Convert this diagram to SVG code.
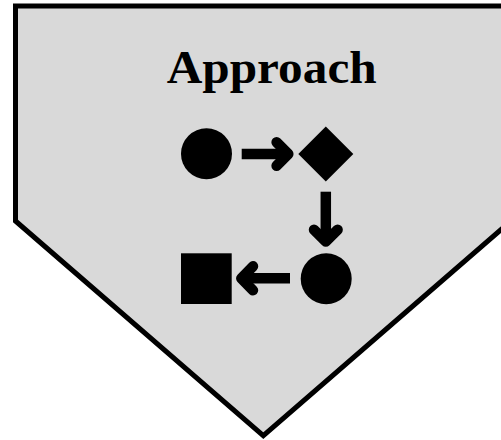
<svg xmlns="http://www.w3.org/2000/svg" width="501" height="440" viewBox="0 0 501 440">
<style>
.shape{fill:#000;stroke:none}
.arrow{fill:none;stroke:#000;stroke-width:10.5}
.head{stroke-linecap:round;stroke-linejoin:round}
.title{font-family:"Liberation Serif","Times New Roman",serif;font-weight:bold;font-size:46px;fill:#000}
</style>
<g id="background">
<path d="M15.5,6 L530,6 L511,221 L263.3,435.7 L15.5,221 Z" fill="#d9d9d9" stroke="#000" stroke-width="5" stroke-linejoin="miter" stroke-miterlimit="10"/>
</g>
<g id="title">
<text class="title" x="166.7" y="83.3" textLength="210" lengthAdjust="spacingAndGlyphs">Approach</text>
</g>
<g id="node-circle-1"><circle class="shape" cx="206.5" cy="153.8" r="25.5"/></g>
<g id="node-diamond"><polygon class="shape" points="325.8,126.5 353.3,154 325.8,181.5 298.3,154"/></g>
<g id="node-circle-2"><circle class="shape" cx="326.2" cy="278.7" r="25.5"/></g>
<g id="node-square"><rect class="shape" x="181" y="253.3" width="50.7" height="50.7"/></g>
<g id="connectors">
<path class="arrow" d="M241.7,154 L286,154"/>
<path class="arrow head" d="M276.6,142.3 L288.3,154 L276.6,165.7"/>
<path class="arrow" d="M325.8,191.7 L325.8,239"/>
<path class="arrow head" d="M314,229.8 L325.8,241.5 L337.6,229.8"/>
<path class="arrow" d="M290,278.3 L244,278.3"/>
<path class="arrow head" d="M253,266.3 L241.3,278.3 L253,290.3"/>
</g>
</svg>
